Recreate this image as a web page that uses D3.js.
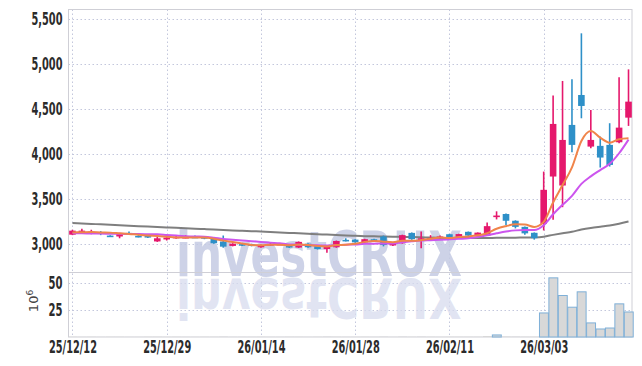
<!DOCTYPE html>
<html>
<head>
<meta charset="utf-8">
<script src="https://cdn.jsdelivr.net/npm/d3@7"></script>
<style>
  html, body { margin: 0; padding: 0; background: #fff; }
  svg { display: block; }
</style>
</head>
<body>
<div id="chart"></div>
<script>
// ---- data ----
const tickIndex  = [0, 10, 20, 30, 40, 50];
const tickLabels = ["25/12/12", "25/12/29", "26/01/14", "26/01/28", "26/02/11", "26/03/03"];
const priceTicks = [3000, 3500, 4000, 4500, 5000, 5500];
const volumeTicks = [25, 50];

const open  = [3105,3140,3128,3133,3095,3085,3125,3092,3096,3030,
               3052,3068,3072,3082,3085,3059,3029,2980,3000,3000,
               2965,2995,2995,2992,2962,3005,2978,2945,2965,3048,
               3050,3020,3055,3085,2985,3010,3125,3035,3050,3068,
               3110,3080,3137,3088,3095,3305,3335,3260,3192,3126,
               3226,3752,3652,4326,4659,4085,4093,4104,4133,4407];
const high  = [3160,3170,3160,3145,3100,3120,3140,3100,3100,3080,
               3080,3090,3100,3095,3090,3062,3096,3010,3010,3005,
               2995,3015,3012,2998,3030,3010,2982,2985,3040,3065,
               3055,3060,3060,3095,3018,3105,3130,3140,3100,3095,
               3115,3115,3140,3130,3240,3365,3340,3265,3196,3130,
               3807,4652,4815,4833,5345,4493,4196,4345,4856,4944];
const low   = [3100,3120,3110,3100,3080,3065,3110,3075,3068,3025,
               3040,3060,3065,3070,3055,3005,2960,2975,2980,2975,
               2960,2985,2990,2958,2958,2960,2940,2905,2960,3030,
               3015,3015,3025,2975,2980,3005,3048,2955,3045,3060,
               3068,3075,3090,3080,3090,3275,3210,3175,3105,3050,
               3152,3270,3411,4022,4400,4067,3852,3863,4122,4315];
const close = [3150,3150,3138,3112,3088,3115,3118,3085,3073,3065,
               3072,3082,3080,3075,3060,3010,2972,3005,2990,2980,
               2990,3002,3003,2962,3025,2965,2945,2975,3035,3042,
               3020,3055,3030,2990,3012,3100,3055,3065,3068,3085,
               3070,3112,3095,3128,3200,3318,3260,3192,3120,3066,
               3604,4337,4159,4104,4537,4159,3963,3881,4296,4585];
const ma5  = [3130,3132,3134,3130,3128,3121,3114,3104,3096,3091,
              3083,3075,3074,3075,3074,3061,3039,3024,3007,2991,
              2987,2993,2993,2987,2996,2991,2980,2974,2989,2992,
              3003,3025,3036,3027,3021,3037,3037,3044,3060,3075,
              3069,3080,3086,3098,3121,3171,3200,3220,3218,3191,
              3248,3464,3657,3854,4148,4259,4184,4129,4167,4177];
const ma10 = [3122,3120,3119,3117,3116,3115,3113,3112,3110,3109,
              3102,3095,3089,3085,3083,3072,3057,3049,3041,3033,
              3024,3016,3009,2997,2994,2989,2987,2984,2988,2994,
              2997,3003,3005,3008,3007,3020,3031,3040,3044,3048,
              3053,3059,3065,3079,3098,3120,3140,3153,3158,3156,
              3210,3332,3438,3536,3670,3754,3824,3893,4011,4163];
const ma60 = [3235,3230,3225,3220,3215,3210,3205,3200,3195,3190,
              3185,3181,3176,3172,3167,3162,3158,3153,3149,3144,
              3140,3135,3130,3125,3120,3115,3110,3106,3101,3096,
              3092,3089,3087,3085,3083,3081,3079,3076,3073,3070,
              3068,3067,3067,3068,3069,3070,3071,3072,3073,3075,
              3083,3103,3121,3138,3162,3180,3194,3207,3227,3252];
const volume = [0.3,0.2,0.3,0.2,0.3,0.3,0.2,0.2,0.3,0.3,
                0.2,0.3,0.2,0.2,0.3,0.3,0.4,0.2,0.2,0.2,
                0.3,0.2,0.2,0.3,0.3,0.2,0.3,0.4,0.3,0.2,
                0.2,0.3,0.2,0.4,0.2,0.4,0.3,0.4,0.3,0.2,
                0.3,0.3,0.3,0.3,0.9,1.9,0.5,0.4,0.3,0.3,
                22.2,54.6,38.3,27.5,41.7,13.0,7.4,8.3,30.6,23.1];

// ---- layout ----
const W = 642, H = 366;
const L = 68.5, R = 632, T = 9.5, MID = 272, B = 337;
const UP = "#e5186c", DOWN = "#2e90c8";
const labelFont = '"Liberation Sans Narrow", "DejaVu Sans Condensed", sans-serif';

const svg = d3.select("#chart").append("svg").attr("width", W).attr("height", H);

const n = close.length;
const idx = d3.range(n);
const x = d3.scaleLinear().domain([-0.42, 59.37]).range([L, R]);
const y = d3.scaleLinear().domain([2690, 5610]).range([MID, T]);
const yv = d3.scaleLinear().domain([0, 60]).range([B, MID]);
const step = x(1) - x(0);

// grid
const grid = svg.append("g").attr("stroke", "#c3c7dc").attr("stroke-dasharray", "1.5,2.5").attr("stroke-width", 1);
grid.selectAll(".hg").data(priceTicks).join("line")
  .attr("x1", L).attr("x2", R).attr("y1", d => Math.round(y(d)) + 0.5).attr("y2", d => Math.round(y(d)) + 0.5);
grid.selectAll(".vg").data(volumeTicks).join("line")
  .attr("x1", L).attr("x2", R).attr("y1", d => Math.round(yv(d)) + 0.5).attr("y2", d => Math.round(yv(d)) + 0.5);
grid.selectAll(".xg").data(tickIndex).join("line")
  .attr("x1", d => Math.round(x(d)) + 0.5).attr("x2", d => Math.round(x(d)) + 0.5)
  .attr("y1", T).attr("y2", B);

// watermark
const wm = svg.append("g").attr("font-family", '"DejaVu Sans", sans-serif').attr("font-weight", "bold").attr("font-size", 62);
wm.append("text").attr("x", 176).attr("y", 276).attr("textLength", 286).attr("lengthAdjust", "spacingAndGlyphs")
  .attr("fill", "#c4cae3").attr("fill-opacity", 0.85).text("investCRUX");
wm.append("text").attr("x", 176).attr("y", 276).attr("textLength", 286).attr("lengthAdjust", "spacingAndGlyphs")
  .attr("transform", "translate(0,279) scale(1,-0.9) translate(0,-276)")
  .attr("fill", "#d8dbee").attr("fill-opacity", 0.75).text("investCRUX");

// frame
svg.append("rect").attr("x", L).attr("y", T).attr("width", R - L).attr("height", B - T)
  .attr("fill", "none").attr("stroke", "#cfcfd6").attr("stroke-width", 1);
svg.append("line").attr("x1", L).attr("x2", R).attr("y1", MID + 0.5).attr("y2", MID + 0.5)
  .attr("stroke", "#cfcfd6");

// volume bars
svg.append("g").selectAll("rect").data(idx).join("rect")
  .attr("x", i => x(i) - step / 2 + 0.5)
  .attr("width", step - 0.5)
  .attr("y", i => yv(volume[i]))
  .attr("height", i => B - yv(volume[i]))
  .attr("fill", "#d8d8d8")
  .attr("stroke", i => (B - yv(volume[i])) > 1 ? "#7fb0d8" : "none")
  .attr("stroke-width", 1);

// moving averages
const lineGen = arr => d3.line().x(i => x(i)).y(i => y(arr[i])).curve(d3.curveMonotoneX)(idx);
svg.append("path").attr("d", lineGen(ma60)).attr("fill", "none").attr("stroke", "#7f7f7f").attr("stroke-width", 2);

// candles
const bw = 6.6;
const cg = svg.append("g");
cg.selectAll("line").data(idx).join("line")
  .attr("x1", i => x(i)).attr("x2", i => x(i))
  .attr("y1", i => y(high[i])).attr("y2", i => y(low[i]))
  .attr("stroke", i => close[i] >= open[i] ? UP : DOWN).attr("stroke-width", 1.6);
cg.selectAll("rect").data(idx).join("rect")
  .attr("x", i => x(i) - bw / 2).attr("width", bw)
  .attr("y", i => y(Math.max(open[i], close[i])))
  .attr("height", i => Math.max(1.6, Math.abs(y(open[i]) - y(close[i]))))
  .attr("fill", i => close[i] >= open[i] ? UP : DOWN);

svg.append("path").attr("d", lineGen(ma10)).attr("fill", "none").attr("stroke", "#cc55ee").attr("stroke-width", 2);
svg.append("path").attr("d", lineGen(ma5)).attr("fill", "none").attr("stroke", "#f0844a").attr("stroke-width", 2);

// axes
const yAxis = svg.append("g").attr("transform", `translate(${L},0)`)
  .call(d3.axisLeft(y).tickValues(priceTicks).tickFormat(d3.format(",")).tickSize(0).tickPadding(6));
const vAxis = svg.append("g").attr("transform", `translate(${L},0)`)
  .call(d3.axisLeft(yv).tickValues(volumeTicks).tickSize(0).tickPadding(6));
const xAxis = svg.append("g").attr("transform", `translate(0,${B})`)
  .call(d3.axisBottom(x).tickValues(tickIndex).tickFormat((d, i) => tickLabels[i]).tickSize(0).tickPadding(4));
[yAxis, vAxis, xAxis].forEach(g => {
  g.select(".domain").remove();
  g.selectAll("text").attr("font-family", labelFont).attr("font-weight", "bold")
    .attr("font-size", 17).attr("fill", "#2b2b2b");
});
xAxis.selectAll("text").attr("textLength", 48).attr("lengthAdjust", "spacingAndGlyphs");
yAxis.selectAll("text").attr("textLength", 31).attr("lengthAdjust", "spacingAndGlyphs");
vAxis.selectAll("text").attr("textLength", 14).attr("lengthAdjust", "spacingAndGlyphs");

// volume unit label
const ul = svg.append("text").attr("transform", "translate(38,301) rotate(-90)")
  .attr("text-anchor", "middle").attr("font-family", '"DejaVu Sans", sans-serif')
  .attr("font-size", 13).attr("fill", "#444");
ul.append("tspan").text("10");
ul.append("tspan").attr("dy", -5).attr("font-size", 9).text("6");
</script>
</body>
</html>
